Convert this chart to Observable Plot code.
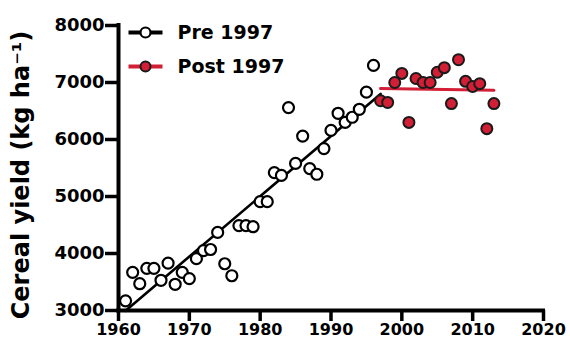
<!DOCTYPE html>
<html>
<head>
<meta charset="utf-8">
<script src="https://cdn.jsdelivr.net/npm/d3@7"></script>
<script src="https://cdn.jsdelivr.net/npm/@observablehq/plot@0.6"></script>
<style>
  html, body { margin: 0; padding: 0; background: #fff; }
  #chart { width: 570px; height: 351px; }
</style>
</head>
<body>
<div id="chart"></div>
<script>
// ---- data ----
const preYears = [1961,1962,1963,1964,1965,1966,1967,1968,1969,1970,1971,1972,1973,1974,1975,1976,1977,1978,1979,1980,1981,1982,1983,1984,1985,1986,1987,1988,1989,1990,1991,1992,1993,1994,1995,1996];
const preYield = [3170,3670,3470,3740,3740,3530,3830,3460,3670,3560,3910,4050,4070,4370,3820,3610,4490,4490,4470,4910,4910,5420,5370,6560,5580,6060,5490,5390,5840,6160,6460,6300,6390,6530,6830,7300];
const postYears = [1997,1998,1999,2000,2001,2002,2003,2004,2005,2006,2007,2008,2009,2010,2011,2012,2013];
const postYield = [6680,6650,7000,7160,6300,7070,7000,7000,7180,7260,6630,7400,7020,6930,6980,6190,6630];
const preFitYears = [1961, 1997];
const preFitYield = [2995, 6800];
const postFitYears = [1997, 2013];
const postFitYield = [6895, 6862];
const xTicks = [1960,1970,1980,1990,2000,2010,2020];
const yTicks = [3000,4000,5000,6000,7000,8000];
const legendLabels = ["Pre 1997", "Post 1997"];
const yTitle = "Cereal yield (kg ha\u207B\u00B9)";

const RED = "#d21f36";
const pre = preYears.map((x, i) => ({x, y: preYield[i]}));
const post = postYears.map((x, i) => ({x, y: postYield[i]}));
const preFit = preFitYears.map((x, i) => ({x, y: preFitYield[i]}));
const postFit = postFitYears.map((x, i) => ({x, y: postFitYield[i]}));

const lineSym = { draw(ctx) { ctx.moveTo(-17, 0); ctx.lineTo(17, 0); } };

const chart = Plot.plot({
  width: 570, height: 351,
  marginLeft: 118, marginRight: 27, marginTop: 25, marginBottom: 41,
  style: { fontFamily: "DejaVu Sans", fontWeight: "bold", background: "white", color: "black" },
  x: { domain: [1960, 2020] },
  y: { domain: [3000, 8000] },
  marks: [
    Plot.axisX({ ticks: xTicks, tickSize: 11, tickPadding: 2, tickFormat: "d", fontSize: 16, strokeWidth: 3.5, label: null }),
    Plot.axisY({ ticks: yTicks, tickSize: 13, tickPadding: 1, tickFormat: "d", fontSize: 18, strokeWidth: 3.5, label: null }),
    Plot.ruleX([1960], { strokeWidth: 4, strokeLinecap: "square" }),
    Plot.ruleY([3000], { strokeWidth: 4, strokeLinecap: "square" }),
    Plot.line(preFit, { x: "x", y: "y", stroke: "black", strokeWidth: 2.6 }),
    Plot.line(postFit, { x: "x", y: "y", stroke: RED, strokeWidth: 3 }),
    Plot.dot(pre, { x: "x", y: "y", r: 5.5, fill: "white", stroke: "black", strokeWidth: 2.2 }),
    Plot.dot(post, { x: "x", y: "y", r: 5.5, fill: RED, stroke: "#1a1a1a", strokeWidth: 2 }),
    // legend
    Plot.dot([legendLabels[0]], { frameAnchor: "top-left", dx: 27, dy: 7, symbol: lineSym, stroke: "black", strokeWidth: 3.8 }),
    Plot.dot([legendLabels[0]], { frameAnchor: "top-left", dx: 27, dy: 7, r: 5, fill: "white", stroke: "black", strokeWidth: 2.2 }),
    Plot.text([legendLabels[0]], { frameAnchor: "top-left", dx: 59, dy: 7, text: d => d, textAnchor: "start", lineAnchor: "middle", fontSize: 19 }),
    Plot.dot([legendLabels[1]], { frameAnchor: "top-left", dx: 27, dy: 41, symbol: lineSym, stroke: RED, strokeWidth: 3.8 }),
    Plot.dot([legendLabels[1]], { frameAnchor: "top-left", dx: 27, dy: 41, r: 5, fill: RED, stroke: "#1a1a1a", strokeWidth: 2 }),
    Plot.text([legendLabels[1]], { frameAnchor: "top-left", dx: 59, dy: 41, text: d => d, textAnchor: "start", lineAnchor: "middle", fontSize: 19 }),
    // y title
    Plot.text([yTitle], { frameAnchor: "left", dx: -97, dy: 7, rotate: -90, text: d => d, fontSize: 24, textAnchor: "middle", lineAnchor: "middle" })
  ]
});
document.getElementById("chart").appendChild(chart);
</script>
</body>
</html>
